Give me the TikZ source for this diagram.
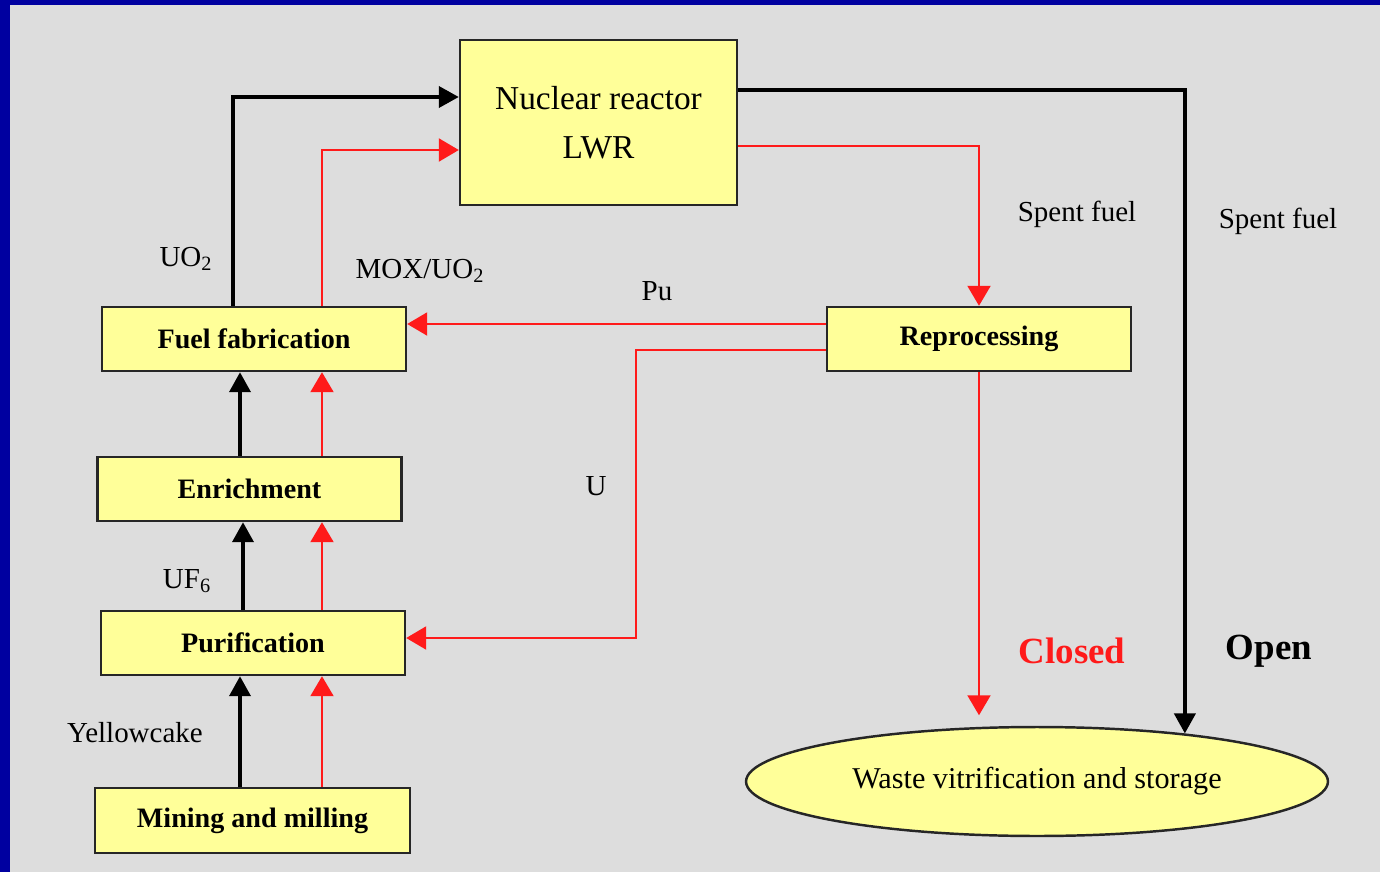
\documentclass[tikz,border=0pt]{standalone}
\usepackage{fontspec}
\setmainfont{Liberation Serif}
\usepackage{xcolor}
\usepackage{tikz}
\usetikzlibrary{arrows.meta,positioning,calc,shapes.geometric}
\definecolor{slideblue}{HTML}{0000A0}
\definecolor{slidegray}{HTML}{DDDDDD}
\definecolor{boxyellow}{HTML}{FFFF99}
\definecolor{flowred}{HTML}{FF1A1A}

\begin{document}
\begin{tikzpicture}[x=0.02cm, y=-0.02cm,
    stage/.style={draw=black!85, fill=boxyellow, line width=1.4pt, minimum width=6.08cm, minimum height=1.28cm, inner sep=0pt, font=\fontsize{16}{19}\selectfont\bfseries},
    reactor/.style={draw=black!85, fill=boxyellow, line width=1.4pt, minimum width=5.54cm, minimum height=3.3cm, inner sep=0pt, align=center, font=\fontsize{19}{28}\selectfont},
    store/.style={ellipse, draw=black!85, fill=boxyellow, line width=1.4pt, minimum width=11.64cm, minimum height=2.18cm, inner sep=0pt, font=\fontsize{17.2}{19}\selectfont},
    blackflow/.style={draw=black, line width=2.2pt, -{Triangle[length=0.4cm,width=0.42cm]}},
    redflow/.style={draw=flowred, line width=1.2pt, -{Triangle[length=0.4cm,width=0.46cm]}},
    lbl/.style={font=\fontsize{16.5}{19}\selectfont, inner sep=0pt},
    route/.style={font=\fontsize{21}{24}\selectfont\bfseries, inner sep=0pt}
]
% slide background
\fill[slideblue] (0,0) rectangle (1380,872);
\fill[slidegray] (10,5) rectangle (1380,872);
\useasboundingbox (0,0) rectangle (1380,872);

\node[reactor] (reactor) at (598.5,122.5) {Nuclear reactor\\LWR};
\node[stage] (fab) at (254,339) {Fuel fabrication};
\node[stage] (enrich) at (249.5,489) {Enrichment};
\node[stage] (purif) at (253,643) {Purification};
\node[stage, minimum width=6.3cm, minimum height=1.3cm] (mining) at (252.5,820.5) {Mining and milling};
\node[stage] (repro) at (979,339) {Reprocessing};
\node[store] (waste) at (1037,781.5) {Waste vitrification and storage};

% once-through (black) and recycle (red) routes
\draw[blackflow] (240,0 |- mining.north) -- (240,0 |- purif.south);
\draw[redflow] (322,0 |- mining.north) -- (322,0 |- purif.south);
\draw[blackflow] (243,0 |- purif.north) -- (243,0 |- enrich.south);
\draw[redflow] (322,0 |- purif.north) -- (322,0 |- enrich.south);
\draw[blackflow] (240,0 |- enrich.north) -- (240,0 |- fab.south);
\draw[redflow] (322,0 |- enrich.north) -- (322,0 |- fab.south);
\draw[blackflow] (233,0 |- fab.north) |- (reactor.west |- 0,97);
\draw[redflow] (322,0 |- fab.north) |- (reactor.west |- 0,150);
\draw[blackflow] (reactor.east |- 0,90) -| (waste.18.3);
\draw[redflow] (reactor.east |- 0,146) -| (repro.north);
\draw[redflow] (repro.west |- 0,324) -- (fab.east |- 0,324);
\draw[redflow] (repro.west |- 0,350) -| (636,638) -- (purif.east |- 0,638);
\draw[redflow, shorten >=6pt] (repro.south) -- (repro.south |- waste.north);

\node[lbl] (uo2) at (186,259) {UO\textsubscript{2}};
\node[lbl] (mox) at (420,271) {MOX/UO\textsubscript{2}};
\node[lbl] (pu) at (657,291) {Pu};
\node[lbl] (u) at (596,486) {U};
\node[lbl] (uf6) at (187,581) {UF\textsubscript{6}};
\node[lbl] (yellowcake) at (135,733) {Yellowcake};
\node[lbl] (spentclosed) at (1077,214) {Spent fuel};
\node[lbl] (spentopen) at (1278,221) {Spent fuel};
\node[route, text=flowred] (closed) at (1072,651) {Closed};
\node[route] (open) at (1269,651) {Open};
\end{tikzpicture}
\end{document}
